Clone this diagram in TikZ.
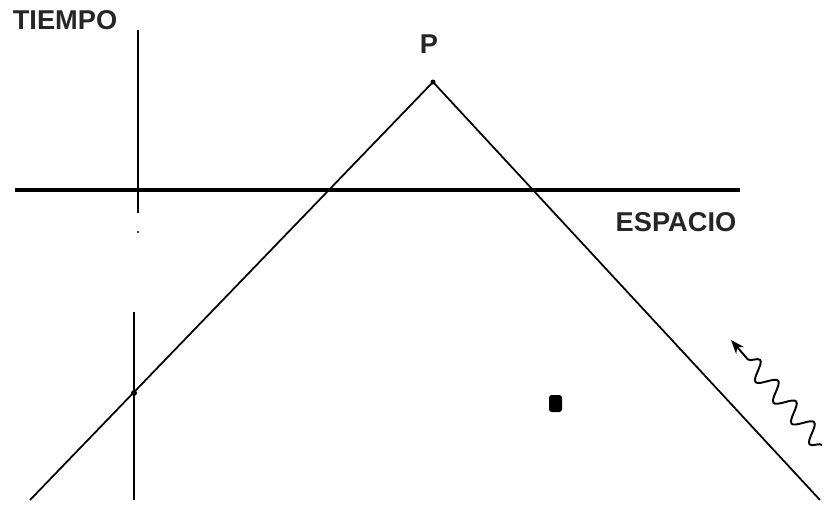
\documentclass[tikz,border=0pt]{standalone}
\usepackage{fontspec}
\setmainfont{Liberation Sans}
\usetikzlibrary{arrows.meta, decorations.pathmorphing}

\begin{document}
\begin{tikzpicture}[x=0.02cm, y=-0.02cm, >=Stealth,
  every node/.style={font=\bfseries\fontsize{15.5}{17}\selectfont, text=black!85},
  axis/.style={line width=2.3pt},
  worldline/.style={line width=1.1pt},
  cone/.style={line width=1pt}]

\useasboundingbox (0,0) rectangle (826,505);

% Axes
\coordinate (xl) at (15,190);
\coordinate (xr) at (740,190);
\coordinate (tt) at (138,30);
\coordinate (tb) at (138,213);
\draw[axis] (xl) -- (xr);
\draw[worldline] (tt) -- (tb);
\fill (138,232) circle (1.2);

\node (tiempo) at (65,20) {TIEMPO};
\node (espacio) at (676,222) {ESPACIO};

% Event P and its light cone
\coordinate (p) at (433,82);
\node (plabel) at (429,44) {P};
\fill (p) circle (2.5);
\coordinate (cl) at (30,500);
\coordinate (cr) at (820,500);
\draw[cone] (p) -- (cl);
\draw[cone] (p) -- (cr);

% Lower world line
\coordinate (wt) at (134,312);
\coordinate (wb) at (134,500);
\draw[worldline] (wt) -- (wb);
\fill (134,393) circle (3);

% Small blob
\fill[rounded corners=1.5] (549,395) rectangle (562,412);

% Incoming signal
\coordinate (ws) at (822,445);
\coordinate (we) at (731,340);
\draw[line width=1.1pt, ->, decorate,
  decoration={snake, amplitude=1.8mm, segment length=5.5mm, post length=3mm}] (ws) -- (we);

\end{tikzpicture}
\end{document}
